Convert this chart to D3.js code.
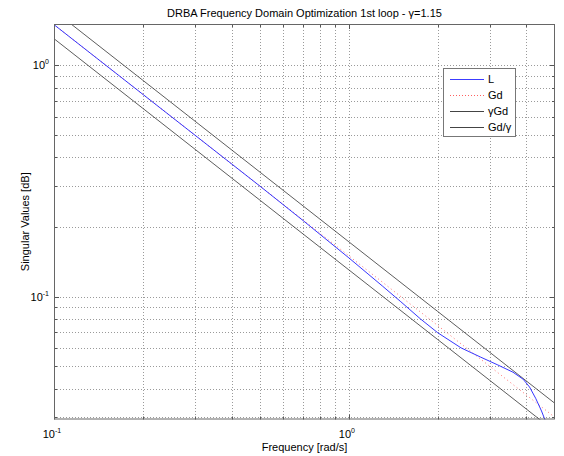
<html>
<head>
<script src="https://cdn.jsdelivr.net/npm/d3@7"></script>
<style>
  body { margin: 0; background: #fff; }
  text { font-family: "Liberation Sans", Arial, sans-serif; fill: #000; }
</style>
</head>
<body>
<script>
// values
var gamma = 1.15;
var gdFreq = [0.1, 0.2, 0.5, 1, 2, 5];
var gdVal  = [1.5, 0.75, 0.3, 0.15, 0.075, 0.03];
var lFreq = [0.1, 0.2, 0.5, 0.7, 1.0, 1.3, 1.5, 1.75, 2.0, 2.4, 2.8, 3.2, 3.6, 3.9, 4.1, 4.3, 4.5, 4.7];
var lVal  = [1.5, 0.75, 0.3, 0.213, 0.147, 0.111, 0.095, 0.080, 0.0698, 0.060, 0.0547, 0.0506, 0.0471, 0.0439, 0.0406, 0.0363, 0.032, 0.0278];
var xGrid = [0.2, 0.3, 0.4, 0.5, 0.6, 0.7, 0.8, 0.9, 1, 2, 3, 4];
var yGrid = [0.03, 0.04, 0.05, 0.06, 0.07, 0.08, 0.09, 0.1, 0.2, 0.3, 0.4, 0.5, 0.6, 0.7, 0.8, 0.9, 1];
var xMajor = [0.1, 1];
var yMajor = [0.1, 1];
var majorExp = ["-1", "0"];
var legendNames = ["L", "Gd", "\u03b3Gd", "Gd/\u03b3"];

var W = 564, H = 456;
var L = 54, R = 555, T = 24, B = 419.5;

var svg = d3.select("body").append("svg").attr("width", W).attr("height", H);

var x = d3.scaleLog().domain([0.1, 5]).range([L, R]);
var y = d3.scaleLog().domain([0.0294, 1.51]).range([B, T]);

svg.append("rect").attr("x", L).attr("y", T).attr("width", R - L).attr("height", B - T).attr("fill", "#fff");

svg.append("clipPath").attr("id", "clip")
   .append("rect").attr("x", L).attr("y", T).attr("width", R - L).attr("height", B - T);

// grid
var grid = svg.append("g").attr("stroke", "#9a9a9a").attr("stroke-width", 1).attr("stroke-dasharray", "1,2");
grid.selectAll(".gx").data(xGrid).enter().append("line")
    .attr("x1", function(d){ return Math.round(x(d)) + 0.5; })
    .attr("x2", function(d){ return Math.round(x(d)) + 0.5; })
    .attr("y1", T).attr("y2", B);
grid.selectAll(".gy").data(yGrid).enter().append("line")
    .attr("y1", function(d){ return Math.round(y(d)) + 0.5; })
    .attr("y2", function(d){ return Math.round(y(d)) + 0.5; })
    .attr("x1", L).attr("x2", R);

// tick marks on all four sides
var ticks = svg.append("g").attr("stroke", "#555").attr("stroke-width", 1);
xGrid.concat([0.1]).forEach(function(d){
  var len = xMajor.indexOf(d) >= 0 ? 5 : 3;
  var px = Math.round(x(d)) + 0.5;
  ticks.append("line").attr("x1", px).attr("x2", px).attr("y1", B).attr("y2", B - len);
  ticks.append("line").attr("x1", px).attr("x2", px).attr("y1", T).attr("y2", T + len);
});
yGrid.forEach(function(d){
  var len = yMajor.indexOf(d) >= 0 ? 5 : 3;
  var py = Math.round(y(d)) + 0.5;
  ticks.append("line").attr("y1", py).attr("y2", py).attr("x1", L).attr("x2", L + len);
  ticks.append("line").attr("y1", py).attr("y2", py).attr("x1", R).attr("x2", R - len);
});

// curves
var line = d3.line()
  .x(function(d){ return x(d[0]); })
  .y(function(d){ return y(d[1]); });

var plot = svg.append("g").attr("clip-path", "url(#clip)").attr("fill", "none");
var gdPts = gdFreq.map(function(f, i){ return [f, gdVal[i]]; });
plot.append("path").datum(gdPts.map(function(p){ return [p[0], p[1] * gamma]; }))
    .attr("d", line).attr("stroke", "#333").attr("stroke-width", 0.8);
plot.append("path").datum(gdPts.map(function(p){ return [p[0], p[1] / gamma]; }))
    .attr("d", line).attr("stroke", "#333").attr("stroke-width", 0.8);
plot.append("path").datum(gdPts)
    .attr("d", line).attr("stroke", "#ff6060").attr("stroke-width", 0.9).attr("stroke-dasharray", "1,3");
plot.append("path").datum(lFreq.map(function(f, i){ return [f, lVal[i]]; }))
    .attr("d", line).attr("stroke", "#2020ff").attr("stroke-width", 0.9);

// frame
svg.append("rect").attr("x", L + 0.5).attr("y", T + 0.5).attr("width", R - L - 1).attr("height", B - T - 1)
   .attr("fill", "none").attr("stroke", "#666").attr("stroke-width", 1);

// tick labels 10^n
function powLabel(g, px, py, exp, anchor) {
  var t = g.append("text").attr("x", px).attr("y", py).attr("font-size", 11).attr("text-anchor", anchor);
  t.append("tspan").text("10");
  t.append("tspan").attr("dy", -5).attr("font-size", 7).text(exp);
}
var labels = svg.append("g");
xMajor.forEach(function(d, i){
  powLabel(labels, x(d) - 2, 438, majorExp[i], "middle");
});
yMajor.forEach(function(d, i){
  powLabel(labels, L - 5, y(d) + 4, majorExp[i], "end");
});

// title and axis labels
svg.append("text").attr("x", (L + R) / 2).attr("y", 17).attr("text-anchor", "middle").attr("font-size", 11)
   .text("DRBA Frequency Domain Optimization 1st loop - \u03b3=1.15");
svg.append("text").attr("x", (L + R) / 2).attr("y", 451).attr("text-anchor", "middle").attr("font-size", 11)
   .text("Frequency [rad/s]");
svg.append("text").attr("transform", "translate(29," + ((T + B) / 2) + ") rotate(-90)")
   .attr("text-anchor", "middle").attr("font-size", 11)
   .text("Singular Values [dB]");

// legend
var lg = svg.append("g");
lg.append("rect").attr("x", 443.5).attr("y", 68.5).attr("width", 72).attr("height", 68)
  .attr("fill", "#fff").attr("stroke", "#777").attr("stroke-width", 1);
var legStroke = ["#3c3cff", "#ff6060", "#444", "#444"];
var legDash = ["none", "1,2", "none", "none"];
legendNames.forEach(function(n, i){
  var ry = 79 + i * 16;
  lg.append("line").attr("x1", 450).attr("x2", 484).attr("y1", ry + 0.5).attr("y2", ry + 0.5)
    .style("stroke", legStroke[i]).style("stroke-width", 1.2).style("stroke-dasharray", legDash[i]);
  lg.append("text").attr("x", 488).attr("y", ry + 4).attr("font-size", 11).text(n);
});
</script>
</body>
</html>
